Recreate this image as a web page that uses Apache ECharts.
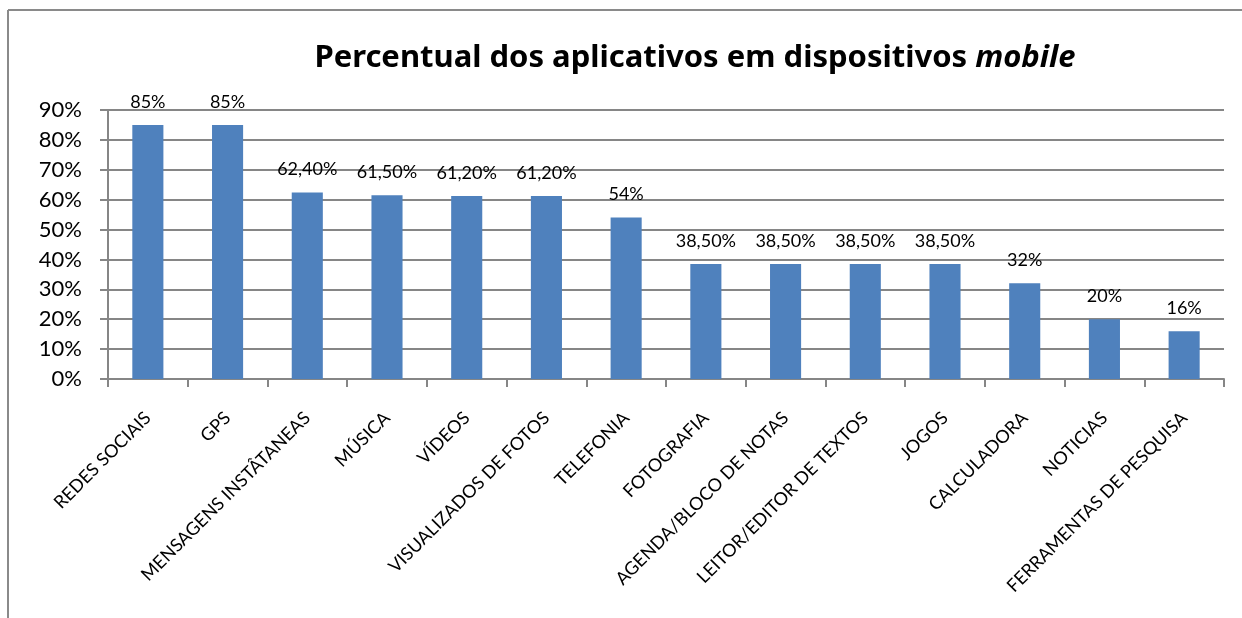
<!DOCTYPE html>
<html>
<head>
<meta charset="utf-8">
<script src="https://cdn.jsdelivr.net/npm/echarts@6/dist/echarts.min.js"></script>
<style>
html,body{margin:0;padding:0;background:#fff;}
#main{width:1242px;height:618px;}
</style>
</head>
<body>
<div id="main"></div>
<script>
var categories = ['REDES SOCIAIS','GPS','MENSAGENS INSTÂTANEAS','MÚSICA','VÍDEOS','VISUALIZADOS DE FOTOS','TELEFONIA','FOTOGRAFIA','AGENDA/BLOCO DE NOTAS','LEITOR/EDITOR DE TEXTOS','JOGOS','CALCULADORA','NOTICIAS','FERRAMENTAS DE PESQUISA'];
var values = [85, 85, 62.4, 61.5, 61.2, 61.2, 54, 38.5, 38.5, 38.5, 38.5, 32, 20, 16];
var yTicks = [0,10,20,30,40,50,60,70,80,90];

var FONT = 'Lato';
var TFONT = 'Noto Sans';
var chart = echarts.init(document.getElementById('main'), null, {renderer:'canvas'});
function fmt(v){
  return (Math.round(v) === v ? String(v) : v.toFixed(2).replace('.', ',')) + '%';
}
chart.setOption({
  backgroundColor:'#ffffff',
  animation:false,
  title:{
    text:'Percentual dos aplicativos em dispositivos {i|mobile}',
    left:690, top:38, textAlign:'center',
    textStyle:{fontFamily:TFONT, fontWeight:'bold', fontSize:31, color:'#000',
      rich:{i:{fontFamily:TFONT, fontWeight:'bold', fontStyle:'italic', fontSize:31, color:'#000'}}}
  },
  graphic:[
    {type:'line', shape:{x1:8,y1:10,x2:1242,y2:10}, style:{stroke:'#8a8a8a', lineWidth:2}},
    {type:'line', shape:{x1:8,y1:10,x2:8,y2:618}, style:{stroke:'#8a8a8a', lineWidth:2}}
  ],
  grid:{left:108, right:18, top:110, bottom:239},
  xAxis:{
    type:'category', data:categories,
    axisLine:{lineStyle:{color:'#868686', width:2}},
    axisTick:{show:true, length:8, lineStyle:{color:'#868686', width:2}},
    axisLabel:{rotate:45, interval:0, margin:36, fontFamily:FONT, fontSize:18, color:'#000'}
  },
  yAxis:{
    type:'value', min:yTicks[0], max:yTicks[yTicks.length-1], interval:10,
    axisLine:{show:true, lineStyle:{color:'#868686', width:2}},
    axisTick:{show:true, length:8, lineStyle:{color:'#868686', width:2}},
    splitLine:{lineStyle:{color:'#868686', width:2}},
    axisLabel:{formatter:'{value}%', margin:26, fontFamily:FONT, fontSize:22, color:'#000'}
  },
  series:[{
    type:'bar', data:values, barWidth:'39%',
    itemStyle:{color:'#4f81bd'},
    label:{show:true, position:'top', distance:14, fontFamily:FONT, fontSize:18, color:'#000',
      formatter:function(p){return fmt(p.value);}}
  }]
});
</script>
</body>
</html>
